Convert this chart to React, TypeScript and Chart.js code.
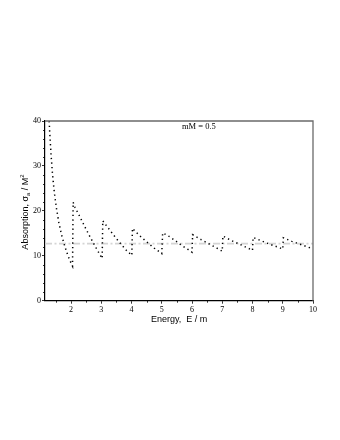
import React, { useEffect, useRef } from "react";
import { Chart, registerables } from "chart.js";

Chart.register(...registerables);

// ---- data ----
const energy = [
  1.27, 1.3, 1.34, 1.39, 1.45, 1.52, 1.6, 1.69, 1.79, 1.9, 2.0, 2.05,
  2.07, 2.13, 2.3, 2.46, 2.63, 2.8, 2.96, 3.03,
  3.05, 3.16, 3.49, 3.82, 4.01,
  4.03, 4.25, 4.5, 4.75, 5.0,
  5.03, 5.2, 5.42, 5.64, 5.87, 6.0,
  6.02, 6.3, 6.6, 6.85, 7.0,
  7.02, 7.3, 7.6, 7.85, 8.0,
  8.02, 8.3, 8.6, 8.85, 9.0,
  9.02, 9.3, 9.6, 9.85, 10.0,
];
const absorption = [
  41, 37, 32.5, 28, 24, 20.5, 17.3, 14.6, 12.2, 10, 8.4, 7.7,
  21.9, 20.8, 18.6, 16.4, 14.2, 12.1, 10.2, 9.4,
  17.8, 16.8, 13.9, 11.3, 10.1,
  16.1, 14.6, 13.1, 11.7, 10.5,
  15.1, 14.5, 13.5, 12.4, 11.4, 10.8,
  14.7, 13.6, 12.5, 11.6, 11.0,
  14.4, 13.4, 12.5, 11.7, 11.2,
  14.1, 13.3, 12.5, 11.9, 11.5,
  14.0, 13.2, 12.5, 11.9, 11.5,
];
const asymptoteEnergy = [1.14, 10];
const asymptoteValue = [12.7, 12.7];

const xTicks = [2, 3, 4, 5, 6, 7, 8, 9, 10];
const xMinorTicks = [1.5, 2.5, 3.5, 4.5, 5.5, 6.5, 7.5, 8.5, 9.5];
const yTicks = [0, 10, 20, 30, 40];
const yMinorTicks = [2, 4, 6, 8, 12, 14, 16, 18, 22, 24, 26, 28, 32, 34, 36, 38];

const xTitle = "Energy,  E / m";
const yTitleMain = "Absorption, σ";
const yTitleSub = "a";
const yTitleMid = " / M";
const yTitleSup = "2";
const annotationText = "mM = 0.5";

const SANS = '"Liberation Sans", Arial, sans-serif';
const SERIF = '"Liberation Serif", "Times New Roman", serif';

const decorations = {
  id: "decorations",
  afterDraw(chart: any) {
    const ctx = chart.ctx as CanvasRenderingContext2D;
    const a = chart.chartArea;
    const xs = chart.scales.x;
    const ys = chart.scales.y;
    ctx.save();
    // frame top & right
    ctx.strokeStyle = "#6a6a6a";
    ctx.lineWidth = 1.3;
    ctx.beginPath();
    ctx.moveTo(a.left, a.top);
    ctx.lineTo(a.right, a.top);
    ctx.lineTo(a.right, a.bottom);
    ctx.stroke();
    // minor ticks
    ctx.strokeStyle = "#000";
    ctx.lineWidth = 0.8;
    ctx.beginPath();
    for (const v of xMinorTicks) {
      const px = Math.round(xs.getPixelForValue(v)) + 0.5;
      ctx.moveTo(px, a.bottom);
      ctx.lineTo(px, a.bottom + 2);
    }
    for (const v of yMinorTicks) {
      const py = Math.round(ys.getPixelForValue(v)) + 0.5;
      ctx.moveTo(a.left, py);
      ctx.lineTo(a.left - 2, py);
    }
    ctx.stroke();

    // annotation
    ctx.fillStyle = "#000";
    ctx.font = `8.5px ${SERIF}`;
    ctx.textBaseline = "alphabetic";
    ctx.textAlign = "left";
    ctx.fillText(annotationText, 182, 129);

    // x title
    ctx.font = `9px ${SANS}`;
    ctx.textAlign = "left";
    ctx.textBaseline = "middle";
    ctx.fillText(xTitle, 151, 320);

    // y title (rotated, composed of parts)
    ctx.translate(25, 212);
    ctx.rotate(-Math.PI / 2);
    const big = `9px ${SANS}`;
    const small = `6px ${SANS}`;
    ctx.font = big;
    const w1 = ctx.measureText(yTitleMain).width;
    const w3 = ctx.measureText(yTitleMid).width;
    ctx.font = small;
    const w2 = ctx.measureText(yTitleSub).width;
    const w4 = ctx.measureText(yTitleSup).width;
    const total = w1 + w2 + w3 + w4;
    let x = -total / 2;
    ctx.textBaseline = "alphabetic";
    ctx.font = big;
    ctx.fillText(yTitleMain, x, 3);
    x += w1;
    ctx.font = small;
    ctx.fillText(yTitleSub, x, 5);
    x += w2;
    ctx.font = big;
    ctx.fillText(yTitleMid, x, 3);
    x += w3;
    ctx.font = small;
    ctx.fillText(yTitleSup, x, -1.5);
    ctx.restore();
  },
};

export default function App() {
  const ref = useRef<HTMLCanvasElement | null>(null);
  useEffect(() => {
    document.body.style.margin = "0";
    const canvas = ref.current!;
    const curve = energy.map((e, i) => ({ x: e, y: absorption[i] }));
    const asym = asymptoteEnergy.map((e, i) => ({ x: e, y: asymptoteValue[i] }));
    const chart = new Chart(canvas, {
      type: "scatter",
      data: {
        datasets: [
          {
            data: curve,
            showLine: true,
            borderColor: "#000",
            borderWidth: 1.5,
            borderDash: [1.3, 3.3],
            pointRadius: 0,
            fill: false,
          },
          {
            data: asym,
            showLine: true,
            borderColor: "#d4d4d4",
            borderWidth: 1.6,
            borderDash: [7, 2.5, 2, 2.5],
            pointRadius: 0,
            fill: false,
          },
        ],
      },
      options: {
        animation: false,
        responsive: false,
        devicePixelRatio: 1,
        layout: { padding: { left: 0, top: 121, right: 27, bottom: 0 } },
        plugins: { legend: { display: false }, tooltip: { enabled: false } },
        scales: {
          x: {
            type: "linear",
            min: 1.14,
            max: 10,
            afterBuildTicks: (s: any) => {
              s.ticks = xTicks.map((v) => ({ value: v }));
            },
            afterFit: (s: any) => {
              s.height = 139.3;
            },
            grid: {
              display: true,
              drawOnChartArea: false,
              drawTicks: true,
              tickLength: 3,
              color: "#000",
              lineWidth: 0.8,
            },
            border: { display: true, color: "#000", width: 1.2 },
            ticks: {
              color: "#000",
              font: { family: SERIF, size: 8 },
              padding: 1.5,
              maxRotation: 0,
              autoSkip: false,
              callback: (v: any) => String(v),
            },
          },
          y: {
            type: "linear",
            min: 0,
            max: 40,
            afterBuildTicks: (s: any) => {
              s.ticks = yTicks.map((v) => ({ value: v }));
            },
            afterFit: (s: any) => {
              s.width = 45;
            },
            grid: {
              display: true,
              drawOnChartArea: false,
              drawTicks: true,
              tickLength: 3,
              color: "#000",
              lineWidth: 0.8,
            },
            border: { display: true, color: "#000", width: 1.2 },
            ticks: {
              color: "#000",
              font: { family: SERIF, size: 8 },
              padding: 1,
              autoSkip: false,
              callback: (v: any) => String(v),
            },
          },
        },
      },
      plugins: [decorations],
    });
    return () => chart.destroy();
  }, []);
  return (
    <div style={{ width: 340, height: 440, background: "#fff" }}>
      <canvas ref={ref} width={340} height={440} style={{ display: "block" }} />
    </div>
  );
}
